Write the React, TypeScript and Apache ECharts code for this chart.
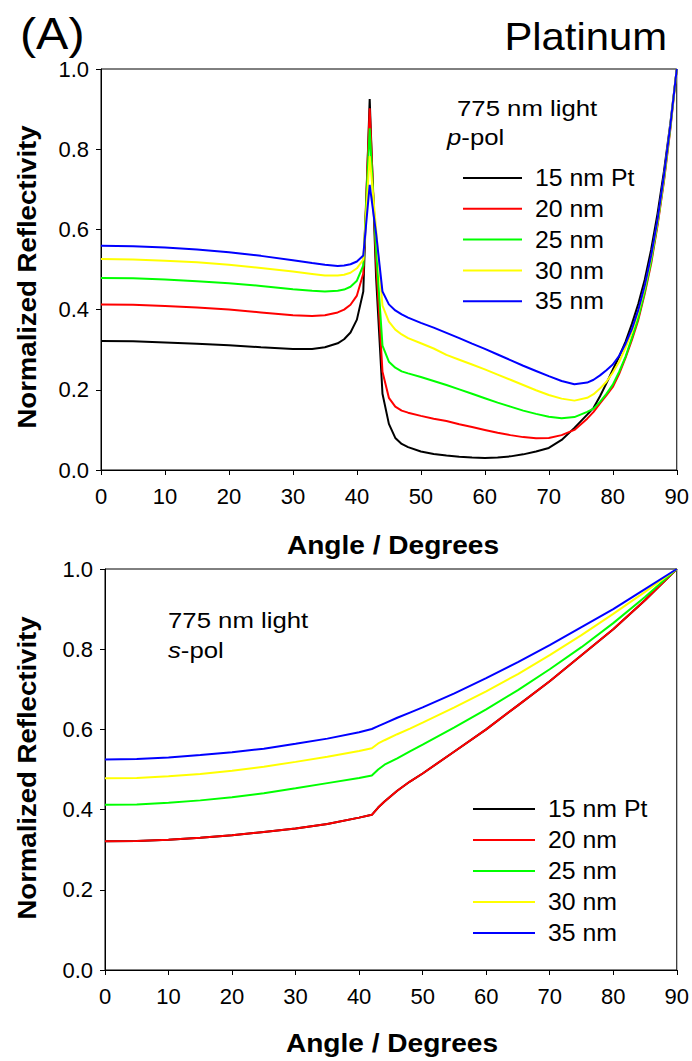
import React, { useEffect, useRef } from "react";
import * as echarts from "echarts";

// ---------- data ----------
const seriesNames = ["15 nm Pt", "20 nm", "25 nm", "30 nm", "35 nm"];
const seriesColors = ["#000000", "#ff0000", "#00ff00", "#ffff00", "#0000ff"];
const xTickStep = 10;
const yTickStep = 0.2;

// p-polarised (top panel)
const pAngles = [0, 5, 10, 15, 20, 25, 30, 33, 35, 37, 38, 39, 40, 41, 42, 43, 44, 45, 46, 47, 48, 50, 52, 54, 56, 58, 60, 62, 64, 66, 68, 70, 72, 74, 76, 77, 78, 79, 80, 81, 82, 83, 84, 85, 86, 87, 88, 89, 90];
const p15 = [0.322, 0.321, 0.318, 0.315, 0.311, 0.306, 0.302, 0.302, 0.306, 0.316, 0.326, 0.343, 0.375, 0.445, 0.925, 0.48, 0.19, 0.115, 0.08, 0.065, 0.057, 0.046, 0.04, 0.036, 0.033, 0.031, 0.03, 0.031, 0.034, 0.039, 0.046, 0.055, 0.075, 0.105, 0.138, 0.155, 0.184, 0.216, 0.25, 0.283, 0.32, 0.365, 0.415, 0.475, 0.55, 0.64, 0.745, 0.865, 1.0];
const p20 = [0.413, 0.412, 0.409, 0.405, 0.4, 0.393, 0.386, 0.384, 0.386, 0.393, 0.4, 0.412, 0.435, 0.49, 0.902, 0.52, 0.245, 0.18, 0.158, 0.148, 0.143, 0.135, 0.128, 0.122, 0.114, 0.107, 0.1, 0.093, 0.087, 0.082, 0.079, 0.08, 0.087, 0.1, 0.128, 0.145, 0.166, 0.186, 0.207, 0.24, 0.28, 0.325, 0.375, 0.44, 0.515, 0.61, 0.72, 0.85, 1.0];
const p25 = [0.479, 0.478, 0.475, 0.471, 0.466, 0.459, 0.451, 0.447, 0.445, 0.447, 0.45, 0.457, 0.472, 0.51, 0.852, 0.55, 0.31, 0.27, 0.255, 0.246, 0.241, 0.232, 0.222, 0.212, 0.201, 0.19, 0.179, 0.168, 0.158, 0.148, 0.14, 0.133, 0.129, 0.132, 0.145, 0.153, 0.17, 0.19, 0.213, 0.245, 0.283, 0.33, 0.38, 0.445, 0.52, 0.615, 0.725, 0.855, 1.0];
const p30 = [0.526, 0.525, 0.522, 0.518, 0.512, 0.504, 0.495, 0.489, 0.485, 0.485, 0.487, 0.492, 0.503, 0.525, 0.783, 0.6, 0.41, 0.37, 0.35, 0.338, 0.329, 0.316, 0.303, 0.287, 0.275, 0.263, 0.251, 0.238, 0.225, 0.212, 0.199, 0.187, 0.178, 0.173, 0.18, 0.189, 0.203, 0.22, 0.243, 0.27, 0.305, 0.345, 0.395, 0.455, 0.53, 0.62, 0.73, 0.86, 1.0];
const p35 = [0.559, 0.558, 0.555, 0.55, 0.543, 0.534, 0.523, 0.516, 0.512, 0.509, 0.51, 0.513, 0.52, 0.535, 0.711, 0.59, 0.445, 0.413, 0.398, 0.388, 0.38, 0.367, 0.355, 0.342, 0.329, 0.315, 0.302, 0.288, 0.274, 0.26, 0.247, 0.234, 0.222, 0.214, 0.218, 0.225, 0.236, 0.249, 0.263, 0.285, 0.315, 0.352, 0.4, 0.46, 0.535, 0.625, 0.735, 0.86, 1.0];

// s-polarised (bottom panel)
const sAngles = [0, 5, 10, 15, 20, 25, 30, 35, 40, 42, 43, 44, 46, 48, 50, 55, 60, 65, 70, 75, 80, 85, 90];
const s15 = [0.321, 0.322, 0.325, 0.33, 0.336, 0.344, 0.353, 0.364, 0.38, 0.387, 0.405, 0.42, 0.447, 0.47, 0.49, 0.545, 0.6, 0.66, 0.72, 0.785, 0.85, 0.922, 1.0];
const s20 = [0.321, 0.322, 0.325, 0.33, 0.336, 0.344, 0.353, 0.364, 0.38, 0.387, 0.405, 0.42, 0.447, 0.47, 0.49, 0.545, 0.6, 0.66, 0.72, 0.785, 0.85, 0.922, 1.0];
const s25 = [0.412, 0.413, 0.417, 0.423, 0.431, 0.441, 0.453, 0.466, 0.479, 0.485, 0.5, 0.512, 0.528, 0.545, 0.562, 0.605, 0.65, 0.698, 0.75, 0.805, 0.865, 0.93, 1.0];
const s30 = [0.478, 0.479, 0.483, 0.489, 0.497, 0.507, 0.519, 0.532, 0.546, 0.553, 0.565, 0.573, 0.588, 0.602, 0.617, 0.655, 0.695, 0.738, 0.785, 0.835, 0.888, 0.943, 1.0];
const s35 = [0.525, 0.526, 0.53, 0.536, 0.543, 0.552, 0.564, 0.577, 0.593, 0.601, 0.608, 0.615, 0.629, 0.642, 0.655, 0.69, 0.728, 0.768, 0.81, 0.855, 0.9, 0.95, 1.0];

const pValues = [p15, p20, p25, p30, p35];
const sValues = [s15, s20, s25, s30, s35];

// ---------- layout ----------
const FONT = '"Liberation Sans", Arial, sans-serif';
const grids = [
  { left: 101, top: 69, width: 576, height: 401 },
  { left: 105, top: 569, width: 574, height: 401 },
];

function axisPair(gi: number) {
  const tickStyle = { color: "#000", width: 1 };
  return {
    x: {
      type: "value",
      gridIndex: gi,
      min: 0,
      max: 90,
      interval: xTickStep,
      axisLine: { show: true, onZero: false, lineStyle: tickStyle },
      axisTick: { show: true, inside: false, length: 5, lineStyle: tickStyle },
      axisLabel: { color: "#000", fontSize: 22, fontFamily: FONT, margin: 15 },
      splitLine: { show: false },
    },
    y: {
      type: "value",
      gridIndex: gi,
      min: 0,
      max: 1,
      interval: yTickStep,
      axisLine: { show: true, onZero: false, lineStyle: tickStyle },
      axisTick: { show: true, inside: false, length: 5, lineStyle: tickStyle },
      axisLabel: {
        color: "#000",
        fontSize: 22,
        fontFamily: FONT,
        margin: 12,
        formatter: (v: number) => v.toFixed(1),
      },
      splitLine: { show: false },
    },
  };
}

function makeSeries(gi: number, angles: number[], values: number[][]) {
  return values.map((vals, k) => ({
    type: "line",
    name: seriesNames[k],
    xAxisIndex: gi,
    yAxisIndex: gi,
    data: angles.map((a, i) => [a, vals[i]]),
    showSymbol: false,
    symbol: "none",
    smooth: false,
    lineStyle: { color: seriesColors[k], width: 2 },
    itemStyle: { color: seriesColors[k] },
    z: 2 + k,
  }));
}

function txt(x: number, y: number, text: string, size: number, opts: any = {}) {
  return {
    type: "text",
    x,
    y,
    rotation: opts.rotation || 0,
    scaleX: opts.scaleX || 1,
    style: {
      text,
      fill: "#000",
      fontSize: size,
      fontFamily: FONT,
      fontWeight: opts.bold ? "bold" : "normal",
      align: opts.align || "left",
      verticalAlign: "middle",
      textAlign: opts.align || "left",
      textVerticalAlign: "middle",
      rich: {
        i: { fontStyle: "italic", fontSize: size, fontFamily: FONT, fill: "#000" },
      },
    },
  };
}

function legendGraphic(lineX0: number, lineX1: number, textX: number, y0: number, dy: number) {
  const out: any[] = [];
  seriesNames.forEach((name, k) => {
    const y = y0 + k * dy;
    out.push({
      type: "line",
      shape: { x1: lineX0, y1: y, x2: lineX1, y2: y },
      style: { stroke: seriesColors[k], lineWidth: 2 },
    });
    out.push(txt(textX, y, name, 23, { scaleX: 1.08 }));
  });
  return out;
}

export default function App() {
  const ref = useRef<HTMLDivElement>(null);

  useEffect(() => {
    if (!ref.current) return;
    const chart = echarts.init(ref.current, undefined, { renderer: "svg" });
    const a0 = axisPair(0);
    const a1 = axisPair(1);
    const option: any = {
      animation: false,
      backgroundColor: "#ffffff",
      grid: grids.map((g) => ({
        ...g,
        show: true,
        borderColor: "#000",
        borderWidth: 1,
        backgroundColor: "transparent",
        containLabel: false,
      })),
      xAxis: [a0.x, a1.x],
      yAxis: [a0.y, a1.y],
      series: [...makeSeries(0, pAngles, pValues), ...makeSeries(1, sAngles, sValues)],
      graphic: [
        txt(20, 34, "(A)", 44, { scaleX: 1.1 }),
        txt(667, 37, "Platinum", 38, { align: "right", scaleX: 1.1 }),
        txt(457, 108, "775 nm light", 23, { scaleX: 1.12 }),
        txt(447, 137, "{i|p}-pol", 23, { scaleX: 1.12 }),
        txt(168, 620, "775 nm light", 23, { scaleX: 1.12 }),
        txt(168, 650, "{i|s}-pol", 23, { scaleX: 1.12 }),
        txt(393, 545, "Angle / Degrees", 26, { bold: true, align: "center", scaleX: 1.08 }),
        txt(392, 1043, "Angle / Degrees", 26, { bold: true, align: "center", scaleX: 1.08 }),
        txt(27, 277, "Normalized Reflectivity", 26, { bold: true, align: "center", rotation: Math.PI / 2, scaleX: 1.06 }),
        txt(27, 768, "Normalized Reflectivity", 26, { bold: true, align: "center", rotation: Math.PI / 2, scaleX: 1.06 }),
        ...legendGraphic(463, 522, 535, 178, 30.8),
        ...legendGraphic(473, 535, 548, 809, 31),
      ],
    };
    chart.setOption(option);
    return () => chart.dispose();
  }, []);

  return (
    <div
      ref={ref}
      style={{ position: "absolute", left: 0, top: 0, width: 692, height: 1061, background: "#fff" }}
    />
  );
}
